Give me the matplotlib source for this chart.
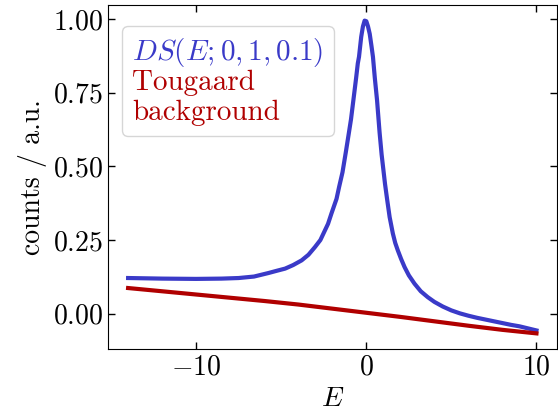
import matplotlib
matplotlib.use("Agg")
import matplotlib.pyplot as plt

# values
E_ds = [-14, -12, -10, -8.5, -7.5, -6.6, -5.75, -5.3, -4.77, -4.3, -3.8, -3.4,
        -3.02, -2.7, -2.43, -2.25, -2.05, -1.75, -1.6, -1.4, -1.2, -1.03, -0.9,
        -0.76, -0.6, -0.5, -0.43, -0.3, -0.2, -0.1, 0.0, 0.1, 0.2, 0.3, 0.39,
        0.5, 0.63, 0.78, 0.9, 1.0, 1.1, 1.23, 1.37, 1.56, 1.7, 1.85, 2.05,
        2.25, 2.5, 2.83, 3.2, 3.61, 4.0, 4.5, 5.0, 5.5, 6.0, 6.5, 7.0, 7.5,
        8.0, 8.5, 9.0, 9.5, 10.0]
ds = [0.121, 0.119, 0.118, 0.119, 0.121, 0.126, 0.138, 0.145, 0.153, 0.165,
      0.181, 0.200, 0.226, 0.250, 0.283, 0.305, 0.340, 0.390, 0.430, 0.480,
      0.550, 0.612, 0.660, 0.725, 0.800, 0.850, 0.872, 0.940, 0.975, 0.995,
      0.993, 0.975, 0.950, 0.910, 0.872, 0.800, 0.725, 0.615, 0.540, 0.490,
      0.440, 0.385, 0.328, 0.272, 0.240, 0.215, 0.185, 0.158, 0.130, 0.102,
      0.076, 0.056, 0.040, 0.024, 0.011, 0.001, -0.007, -0.014, -0.020,
      -0.026, -0.032, -0.038, -0.043, -0.050, -0.057]

E_bg = [-14, -12, -10, -8, -6, -4, -2, 0, 2, 4, 6, 8, 10]
bg = [0.087, 0.076, 0.065, 0.054, 0.043, 0.031, 0.017, 0.003, -0.011,
      -0.026, -0.041, -0.055, -0.067]

blue = "#3a3ac8"
red = "#b00000"

plt.rcParams["font.family"] = "serif"
plt.rcParams["font.serif"] = ["cmr10"]
plt.rcParams["mathtext.fontset"] = "cm"
plt.rcParams["axes.formatter.use_mathtext"] = True
plt.rcParams["font.size"] = 20

fig = plt.figure(figsize=(5.58, 4.16), dpi=100)
ax = fig.add_axes([0.193, 0.161, 0.805, 0.827])

ax.plot(E_ds, ds, color=blue, lw=3, label="$DS(E;0,1,0.1)$")
ax.plot(E_bg, bg, color=red, lw=3, label="Tougaard\nbackground")

ax.set_xlabel("$E$")
ax.set_ylabel("counts / a.u.")
ax.set_yticks([0.0, 0.25, 0.5, 0.75, 1.0])
ax.set_xticks([-10, 0, 10])
ax.tick_params(direction="in", top=True, right=True, length=5, width=1)

leg = ax.legend(loc="upper left", bbox_to_anchor=(0.032, 0.939),
                borderaxespad=0, handlelength=0, handletextpad=0,
                labelspacing=0.0, borderpad=0.35, fontsize=21,
                fancybox=True, edgecolor="0.8", framealpha=0.8)
for txt, ln in zip(leg.get_texts(), leg.get_lines()):
    txt.set_color(ln.get_color())
    ln.set_visible(False)

fig.savefig("out.png", dpi=100)
